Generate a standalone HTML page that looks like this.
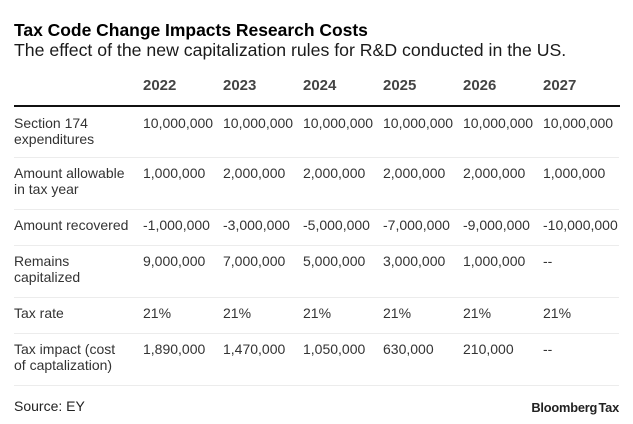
<!DOCTYPE html>
<html>
<head>
<meta charset="utf-8">
<style>
  html, body { margin:0; padding:0; background:#fff; }
  body { width:633px; height:424px; position:relative; overflow:hidden; font-family:"Liberation Sans", Arial, sans-serif; }
  .a { position:absolute; white-space:nowrap; }
  .title { left:14px; top:20px; font-size:17.5px; font-weight:bold; color:#000; line-height:20px; letter-spacing:-0.02px; }
  .sub { left:14px; top:40px; font-size:17.7px; color:#1a1a1a; line-height:20px; }
  .yr { font-size:15px; font-weight:bold; color:#444; line-height:16px; top:78px; }
  .rule { position:absolute; left:14px; width:606px; top:105px; height:2px; background:#111; }
  .sep { position:absolute; left:14px; width:605px; height:1px; background:#ececec; }
  .c { font-size:14px; color:#333; line-height:16px; }
  .src { left:14px; top:398px; font-size:14px; color:#222; line-height:16px; }
  .bt { right:14px; top:401px; font-size:12.8px; font-weight:bold; color:#222; line-height:14px; letter-spacing:-0.2px; word-spacing:-2px; }
</style>
</head>
<body>
  <div class="a title">Tax Code Change Impacts Research Costs</div>
  <div class="a sub">The effect of the new capitalization rules for R&amp;D conducted in the US.</div>

  <div class="a yr" style="left:143px">2022</div>
  <div class="a yr" style="left:223px">2023</div>
  <div class="a yr" style="left:303px">2024</div>
  <div class="a yr" style="left:383px">2025</div>
  <div class="a yr" style="left:463px">2026</div>
  <div class="a yr" style="left:543px">2027</div>

  <div class="rule"></div>

  <!-- Row 1 -->
  <div class="a c" style="left:14px; top:115px">Section 174<br>expenditures</div>
  <div class="a c" style="left:143px; top:115px">10,000,000</div>
  <div class="a c" style="left:223px; top:115px">10,000,000</div>
  <div class="a c" style="left:303px; top:115px">10,000,000</div>
  <div class="a c" style="left:383px; top:115px">10,000,000</div>
  <div class="a c" style="left:463px; top:115px">10,000,000</div>
  <div class="a c" style="left:543px; top:115px">10,000,000</div>
  <div class="sep" style="top:157px"></div>

  <!-- Row 2 -->
  <div class="a c" style="left:14px; top:165px">Amount allowable<br>in tax year</div>
  <div class="a c" style="left:143px; top:165px">1,000,000</div>
  <div class="a c" style="left:223px; top:165px">2,000,000</div>
  <div class="a c" style="left:303px; top:165px">2,000,000</div>
  <div class="a c" style="left:383px; top:165px">2,000,000</div>
  <div class="a c" style="left:463px; top:165px">2,000,000</div>
  <div class="a c" style="left:543px; top:165px">1,000,000</div>
  <div class="sep" style="top:209px"></div>

  <!-- Row 3 -->
  <div class="a c" style="left:14px; top:217px">Amount recovered</div>
  <div class="a c" style="left:143px; top:217px">-1,000,000</div>
  <div class="a c" style="left:223px; top:217px">-3,000,000</div>
  <div class="a c" style="left:303px; top:217px">-5,000,000</div>
  <div class="a c" style="left:383px; top:217px">-7,000,000</div>
  <div class="a c" style="left:463px; top:217px">-9,000,000</div>
  <div class="a c" style="left:543px; top:217px">-10,000,000</div>
  <div class="sep" style="top:245px"></div>

  <!-- Row 4 -->
  <div class="a c" style="left:14px; top:253px">Remains<br>capitalized</div>
  <div class="a c" style="left:143px; top:253px">9,000,000</div>
  <div class="a c" style="left:223px; top:253px">7,000,000</div>
  <div class="a c" style="left:303px; top:253px">5,000,000</div>
  <div class="a c" style="left:383px; top:253px">3,000,000</div>
  <div class="a c" style="left:463px; top:253px">1,000,000</div>
  <div class="a c" style="left:543px; top:253px">--</div>
  <div class="sep" style="top:297px"></div>

  <!-- Row 5 -->
  <div class="a c" style="left:14px; top:305px">Tax rate</div>
  <div class="a c" style="left:143px; top:305px">21%</div>
  <div class="a c" style="left:223px; top:305px">21%</div>
  <div class="a c" style="left:303px; top:305px">21%</div>
  <div class="a c" style="left:383px; top:305px">21%</div>
  <div class="a c" style="left:463px; top:305px">21%</div>
  <div class="a c" style="left:543px; top:305px">21%</div>
  <div class="sep" style="top:333px"></div>

  <!-- Row 6 -->
  <div class="a c" style="left:14px; top:341px">Tax impact (cost<br>of captalization)</div>
  <div class="a c" style="left:143px; top:341px">1,890,000</div>
  <div class="a c" style="left:223px; top:341px">1,470,000</div>
  <div class="a c" style="left:303px; top:341px">1,050,000</div>
  <div class="a c" style="left:383px; top:341px">630,000</div>
  <div class="a c" style="left:463px; top:341px">210,000</div>
  <div class="a c" style="left:543px; top:341px">--</div>
  <div class="sep" style="top:385px"></div>

  <div class="a src">Source: EY</div>
  <div class="a bt">Bloomberg Tax</div>
</body>
</html>
